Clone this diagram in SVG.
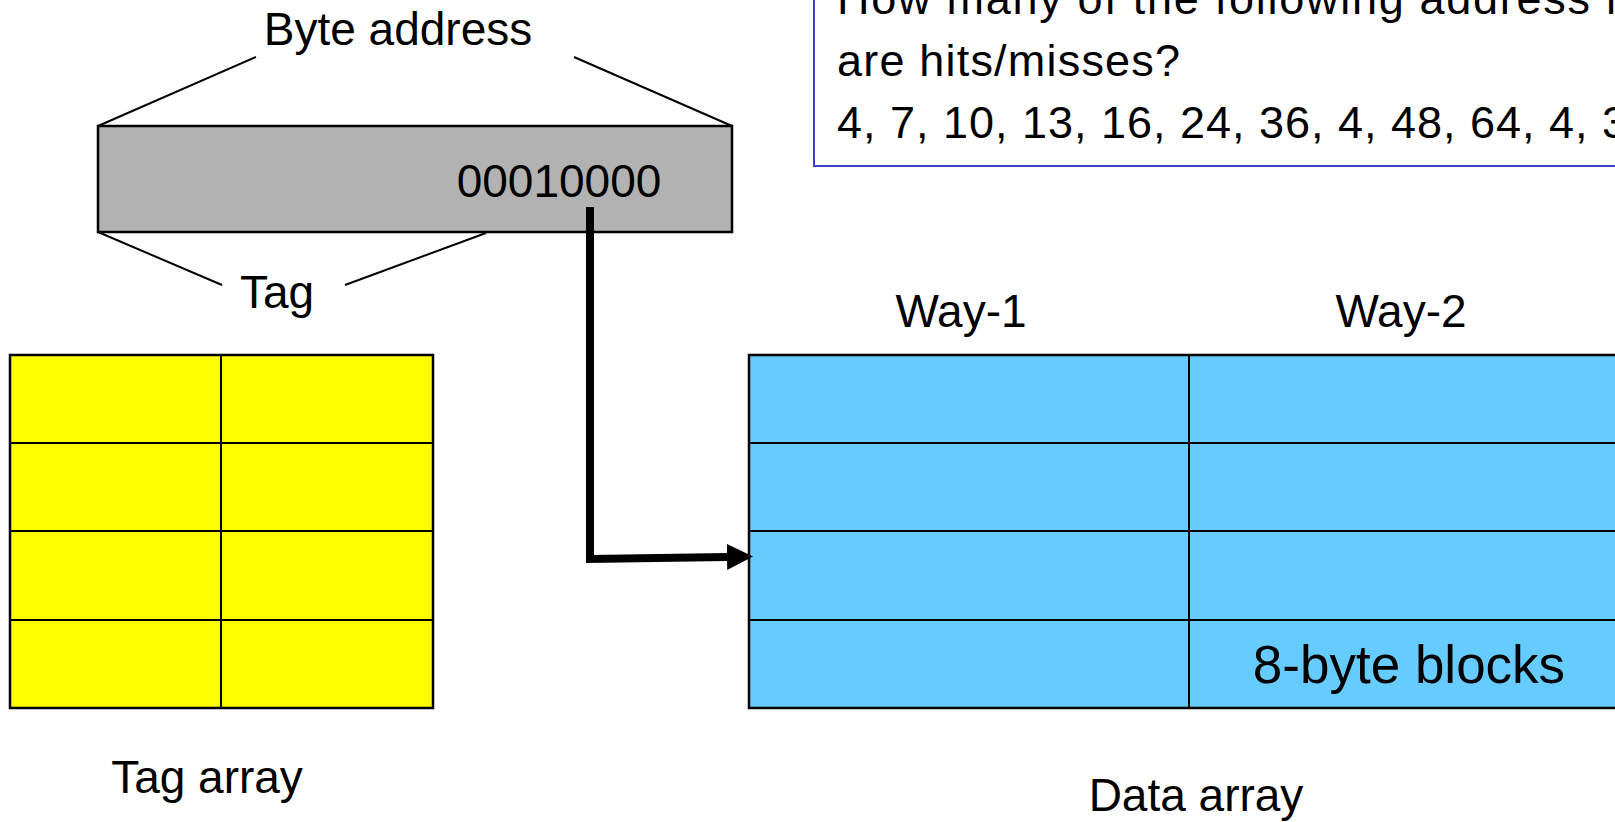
<svg xmlns="http://www.w3.org/2000/svg" width="1615" height="822" viewBox="0 0 1615 822">
<style>
.t{font-family:"Liberation Sans",Arial,sans-serif;fill:#000;}
.ln{stroke:#000;stroke-width:2;fill:none;}
.cell{stroke:#000;stroke-width:2.5;}
</style>
<defs>
<marker id="ah" markerUnits="userSpaceOnUse" markerWidth="26" markerHeight="26" viewBox="0 0 25 25" refX="0" refY="12.5" orient="auto">
<path d="M0,0 L25,12.5 L0,25 z" fill="#000"/>
</marker>
</defs>
<rect width="1615" height="822" fill="#fff"/>

<g id="question">
<rect x="814" y="-20" width="840" height="186" fill="#fff" stroke="#4040CC" stroke-width="2"/>
<text class="t" x="837" y="14" font-size="45" textLength="784" lengthAdjust="spacing">How many of the following address r</text>
<text class="t" x="837" y="76" font-size="45" textLength="343" lengthAdjust="spacing">are hits/misses?</text>
<text class="t" x="837" y="138" font-size="45" textLength="790" lengthAdjust="spacing">4, 7, 10, 13, 16, 24, 36, 4, 48, 64, 4, 3</text>
</g>

<g id="byte-address">
<text class="t" x="398" y="45" font-size="46" text-anchor="middle">Byte address</text>
<line class="ln" x1="98" y1="126" x2="256" y2="57"/>
<line class="ln" x1="574" y1="57" x2="732" y2="126"/>
<rect x="98" y="126" width="634" height="106" fill="#B2B2B2" stroke="#000" stroke-width="2.5"/>
<text class="t" x="559" y="197" font-size="46" text-anchor="middle">00010000</text>
<line class="ln" x1="98" y1="232" x2="222" y2="285"/>
<line class="ln" x1="345" y1="285" x2="486" y2="233"/>
<text class="t" x="277" y="308" font-size="46" text-anchor="middle">Tag</text>
</g>

<g id="tag-array">
<rect class="cell" x="10" y="355" width="423" height="353" fill="#FFFF00"/>
<line class="ln" x1="10" y1="443" x2="433" y2="443"/>
<line class="ln" x1="10" y1="531" x2="433" y2="531"/>
<line class="ln" x1="10" y1="620" x2="433" y2="620"/>
<line class="ln" x1="221" y1="355" x2="221" y2="708"/>
<text class="t" x="207" y="793" font-size="46" text-anchor="middle">Tag array</text>
</g>

<g id="data-array">
<text class="t" x="961" y="327" font-size="46" text-anchor="middle">Way-1</text>
<text class="t" x="1401" y="327" font-size="46" text-anchor="middle">Way-2</text>
<rect class="cell" x="749" y="355" width="900" height="353" fill="#66CCFF"/>
<line class="ln" x1="749" y1="443" x2="1649" y2="443"/>
<line class="ln" x1="749" y1="531" x2="1649" y2="531"/>
<line class="ln" x1="749" y1="620" x2="1649" y2="620"/>
<line class="ln" x1="1189" y1="355" x2="1189" y2="708"/>
<text class="t" x="1409" y="683" font-size="53" text-anchor="middle">8-byte blocks</text>
<text class="t" x="1196" y="811" font-size="46" text-anchor="middle">Data array</text>
</g>

<g id="connectors">
<path d="M590,207 V559 L727,557" fill="none" stroke="#000" stroke-width="8" stroke-linejoin="miter" marker-end="url(#ah)"/>
</g>
</svg>
